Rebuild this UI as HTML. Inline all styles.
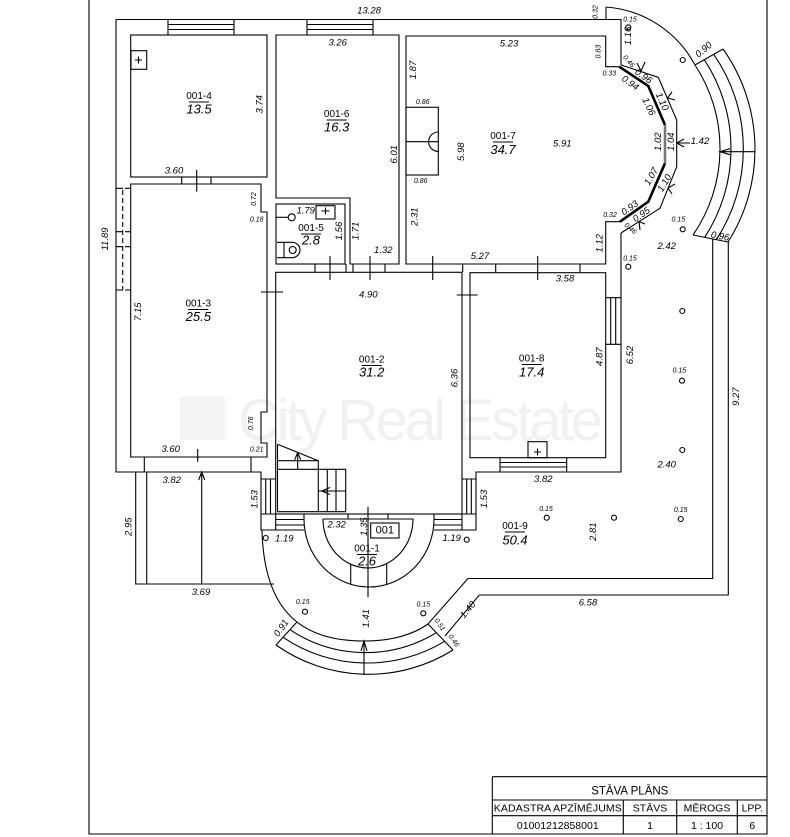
<!DOCTYPE html>
<html><head><meta charset="utf-8">
<style>
html,body{margin:0;padding:0;background:#fff;}
svg{display:block;}
text{font-family:"Liberation Sans",Arial,sans-serif;fill:#000;}
.d{font-size:9.5px;font-style:italic;}
.s{font-size:7px;font-style:italic;}
.r{font-size:10px;}
.a{font-size:13px;font-style:italic;}
.t{font-size:10.5px;}
</style></head><body>
<svg width="790" height="837" viewBox="0 0 790 837" xmlns="http://www.w3.org/2000/svg">
<rect width="790" height="837" fill="#fff"/>
<!-- watermark -->
<rect x="180" y="397" width="45" height="43" fill="#f4f4f4"/>
<text x="238" y="440" font-size="58" textLength="365" style="fill:#f1f1f1">City Real Estate</text>

<g fill="none" stroke="#000" stroke-width="1.1">
<!-- page border -->
<path d="M89,0 V834 H767 V0"/>
<!-- outer walls -->
<path d="M116,19.5 H621 V65"/>
<path d="M116,19.5 V472 H261 V530 H304"/>
<path d="M606,7 V19.5"/>
<path d="M606,7 A110,110 0 0 1 695,65"/>
<!-- rooms -->
<rect x="130.7" y="35" width="136.3" height="142"/>
<path d="M276,35 H399 V264 H350 V198 H276 Z"/>
<rect x="276" y="204" width="69" height="60"/>
<path d="M130.7,184 H261 V212 H267 V412 H261 V443 H267 V457 H130.7 Z"/>
<path d="M619.3,66.7 H605.7 V36 H406 V264 H605.7 V221.7 H620"/>
<rect x="275.7" y="272.3" width="186.3" height="241.7"/>
<rect x="470" y="272.7" width="135.7" height="185"/>
<path d="M621,233 V472 H476 V530 H434"/>
<path d="M275.7,514 V530 M462,514 V530 M261,514 H304 M434,514 H476"/>
<!-- octagon -->
<path d="M621,65 L658.3,77.3 L676.7,120 V166.7 L660,208.3 L621,233"/>
<path d="M619.3,66.7 L648.3,86 L665,125 M665,163.3 L648.3,201.7 L620,221.7" stroke-width="2.6"/>
<path d="M665,125 V163.3" stroke="#777" stroke-width="2.6"/>
<!-- octagon dim arrows -->
<path d="M637,63 L641,71 L645,62 M672,92 L667.5,98 L675,100 M684,139 L676.7,143 L684,147 M676.7,143 H690 M675,184 L668,188 L672,194 M645,224 L639,221.6 L640,230"/>
<!-- right curved steps -->
<path d="M695,65 A152,152 0 0 1 693,235"/>
<path d="M704.3,59.7 A162,162 0 0 1 704.7,237.3"/>
<path d="M713.7,54.3 A166,166 0 0 1 716.3,239.7"/>
<path d="M723,49 A173,173 0 0 1 728,242"/>
<path d="M695,65 L723,49 M693,235 L728,242"/>
<path d="M720,151.7 H755 M730,148.7 L720,151.7 L730,154.7"/>
<!-- left wall dashed window -->
<path d="M122.7,190 V290" stroke-dasharray="5,3"/>
<path d="M116,188.3 H123 M125,188.3 H130.7 M116,231.7 H123 M125,231.7 H130.7 M116,246.7 H123 M125,246.7 H130.7 M116,290 H123 M125,290 H130.7"/>
<!-- windows -->
<path d="M168,19.5 V35 M234,19.5 V35 M168,24.5 H234 M168,29.5 H234"/>
<path d="M307,19.5 V35 M373,19.5 V35 M307,24.5 H373 M307,29.5 H373"/>
<path d="M605.7,297.7 H621 M605.7,344.3 H621 M610.7,297.7 V344.3 M615.7,297.7 V344.3"/>
<path d="M500,457.7 V472 M566.7,457.7 V472 M500,462.5 H566.7 M500,467 H566.7"/>
<path d="M261,479 H275.7 M265.7,479 V514 M270.5,479 V514"/>
<path d="M462,479 H476 M466.7,479 V514 M471.3,479 V514"/>
<path d="M275.7,519.5 H304 M275.7,525 H304 M434,519.5 H462 M434,525 H462"/>
<!-- door ticks & jambs -->
<path d="M196.7,170 V191.7 M181.7,177 V184 M211,177 V184"/>
<path d="M261,292 H283 M456.7,295 H477.7"/>
<path d="M330,256 V280 M370,256 V280 M432.7,256 V280 M537.7,256 V280"/>
<path d="M315,264 V272 M346,264 V272 M353,264 V272 M385,264 V272 M462.7,264 V272 M495.7,264 V272 M580,264 V272"/>
<path d="M197.7,449 V461.7 M144.3,457 V472 M251,457 V472"/>
<path d="M201.7,584 V472 M198.7,480 L201.7,472 L204.7,480"/>
<!-- left terrace box -->
<path d="M135.7,472 V584 H274 M146.7,472 V584"/>
<!-- fixtures -->
<rect x="131" y="50.7" width="15.7" height="18.6"/>
<path d="M135,60 H142 M138.5,56.5 V63.5"/>
<rect x="528" y="441.7" width="19" height="16"/>
<path d="M534,452 H541 M537.5,448.5 V455.5"/>
<rect x="316" y="205.7" width="19" height="13.3"/>
<path d="M321.5,211 H329.5 M325.5,207.5 V214.5"/>
<path d="M276,217.3 H288"/>
<circle cx="291.7" cy="217.3" r="3.5"/>
<path d="M277,242.3 H292 A8,7.7 0 0 1 292,257.7 H277 M284,242.3 V257.7"/>
<circle cx="292.7" cy="250" r="3.5"/>
<!-- fireplace -->
<rect x="406" y="107.3" width="32.3" height="67.7"/>
<path d="M406,141.7 H438.3 M438.3,132 A9.7,9.7 0 0 0 438.3,151.4"/>
<!-- stairs -->
<path d="M277.5,444.3 V511.7 H345.7 V469.3 H277.5 M277.5,444.3 L318.3,460.7 V511.7 M277.5,460.7 H318.3"/>
<path d="M327.3,469.3 V511.7 M336,469.3 V511.7 M318.3,491 H345.7 M330,487.5 L321.7,491 L330,494.5"/>
<path d="M297.7,469.3 V452.7 M294.7,459.7 L297.7,452.7 L300.7,459.7"/>
<!-- entrance -->
<path d="M304,514 V519 A65,68 0 0 0 434,519 V514"/>
<path d="M323,519 H413 A45,49 0 0 1 323,519"/>
<path d="M350.7,564 V584.5 M386.7,564 V584.5 M348,514 V519 M388,514 V519"/>
<path d="M368,507 V597"/>
<rect x="370.7" y="523" width="28.3" height="15"/>
<!-- portico / terrace -->
<path d="M262,530 C264,615 305,641 364,641 C388.8,641 410.4,636.4 428,624 L468,578.5 H712.7 V239"/>
<path d="M445,636 L479.3,595 H728.3 V242"/>
<path d="M297,622 L276,645 M428,624 L453,650"/>
<path d="M290,629.7 A136,136 0 0 0 436.3,632.7"/>
<path d="M283,637.3 A150,150 0 0 0 444.7,641.3"/>
<path d="M276,645 A160,160 0 0 0 453,650"/>
<path d="M364,675 V641 M361,651 L364,641 L367,651"/>
<!-- columns -->
<circle cx="628.3" cy="27.3" r="2.5"/><circle cx="682.7" cy="60" r="2.5"/>
<circle cx="682.7" cy="229.3" r="2.5"/><circle cx="628.3" cy="266.7" r="2.5"/>
<circle cx="682.3" cy="311" r="2.5"/><circle cx="682" cy="380.7" r="2.5"/>
<circle cx="682.3" cy="450" r="2.5"/><circle cx="546.7" cy="517.7" r="2.5"/>
<circle cx="614" cy="517.7" r="2.5"/><circle cx="680.7" cy="519" r="2.5"/>
<circle cx="466.7" cy="539.7" r="2.5"/><circle cx="265.7" cy="538" r="2.5"/>
<circle cx="305" cy="611.7" r="2.5"/><circle cx="423.3" cy="613.3" r="2.5"/>
<!-- room label underlines -->
<path d="M189,102 H209 M326.7,120 H346.7 M301,234 H321 M493,142 H513 M188.3,309.5 H208.3 M361.7,365.5 H381.7 M521.7,364.5 H541.7 M505,532 H525 M357,554.5 H377"/>
<!-- title block -->
<path d="M492.3,776.7 H767 M492.3,776.7 V834 M492.3,800 H767 M492.3,815.7 H767 M623.3,800 V834 M676.7,800 V834 M737.3,800 V834"/>
</g>

<g dominant-baseline="central" text-anchor="middle">
<!-- room labels -->
<text class="r" x="199" y="96.5">001-4</text><text class="a" x="199" y="109">13.5</text>
<text class="r" x="336.7" y="114.5">001-6</text><text class="a" x="336.7" y="127">16.3</text>
<text class="r" x="311" y="228.5">001-5</text><text class="a" x="311" y="240">2.8</text>
<text class="r" x="503" y="136.5">001-7</text><text class="a" x="503" y="149.5">34.7</text>
<text class="r" x="198.3" y="304">001-3</text><text class="a" x="198.3" y="316.7">25.5</text>
<text class="r" x="371.7" y="360">001-2</text><text class="a" x="371.7" y="372">31.2</text>
<text class="r" x="531.7" y="359">001-8</text><text class="a" x="531.7" y="372">17.4</text>
<text class="r" x="515" y="526.5">001-9</text><text class="a" x="515" y="540">50.4</text>
<text class="r" x="367" y="549">001-1</text><text class="a" x="367" y="561">2.6</text>
<text x="384.8" y="530.5" font-size="11">001</text>

<!-- dimensions -->
<text class="d" x="369" y="11">13.28</text>
<text class="d" x="337.7" y="43">3.26</text>
<text class="d" x="509" y="44">5.23</text>
<text class="s" x="596" y="12" transform="rotate(-90 596 12)">0.32</text>
<text class="s" x="630" y="20">0.15</text>
<text class="d" x="628.3" y="36" transform="rotate(-90 628.3 36)">1.16</text>
<text class="s" x="599" y="51.7" transform="rotate(-90 599 51.7)">0.83</text>
<text class="s" x="609.3" y="74">0.33</text>
<text class="d" x="413.3" y="70" transform="rotate(-90 413.3 70)">1.87</text>
<text class="s" x="422.7" y="102.3">0.86</text>
<text class="s" x="420.7" y="181.7">0.86</text>
<text class="d" x="461.7" y="151.7" transform="rotate(-90 461.7 151.7)">5.98</text>
<text class="d" x="562.3" y="144">5.91</text>
<text class="d" x="415" y="216.7" transform="rotate(-90 415 216.7)">2.31</text>
<text class="d" x="600" y="243.3" transform="rotate(-90 600 243.3)">1.12</text>
<text class="s" x="610" y="215.7">0.32</text>
<text class="d" x="480" y="256.7">5.27</text>
<text class="d" x="666.7" y="246.7">2.42</text>
<text class="s" x="678.3" y="220">0.15</text>
<text class="s" x="630" y="259">0.15</text>
<text class="d" x="704" y="50" transform="rotate(-40 704 50)">0.90</text>
<text class="d" x="720" y="236.7" transform="rotate(10 720 236.7)">0.96</text>
<text class="d" x="700" y="141.7">1.42</text>
<text class="s" x="628.3" y="61.7" transform="rotate(50 628.3 61.7)">0.46</text>
<text class="d" x="643.3" y="76.7" transform="rotate(35 643.3 76.7)">0.96</text>
<text class="d" x="630" y="83.3" transform="rotate(35 630 83.3)">0.94</text>
<text class="d" x="661.7" y="101.7" transform="rotate(65 661.7 101.7)">1.10</text>
<text class="d" x="648.3" y="106.7" transform="rotate(65 648.3 106.7)">1.06</text>
<text class="d" x="658.3" y="141.7" transform="rotate(-90 658.3 141.7)">1.02</text>
<text class="d" x="671.7" y="141.7" transform="rotate(-90 671.7 141.7)">1.04</text>
<text class="d" x="651.7" y="176.7" transform="rotate(-60 651.7 176.7)">1.07</text>
<text class="d" x="665" y="183.3" transform="rotate(-60 665 183.3)">1.10</text>
<text class="d" x="630" y="208.3" transform="rotate(-35 630 208.3)">0.93</text>
<text class="d" x="641.7" y="215" transform="rotate(-35 641.7 215)">0.95</text>
<text class="s" x="630" y="229" transform="rotate(40 630 229)">0.46</text>
<text class="d" x="105.7" y="239" transform="rotate(-90 105.7 239)">11.89</text>
<text class="d" x="260" y="104.3" transform="rotate(-90 260 104.3)">3.74</text>
<text class="d" x="174" y="171">3.60</text>
<text class="d" x="394.3" y="154.3" transform="rotate(-90 394.3 154.3)">6.01</text>
<text class="s" x="254.3" y="199" transform="rotate(-90 254.3 199)">0.72</text>
<text class="s" x="256.7" y="220">0.18</text>
<text class="d" x="305.7" y="211">1.79</text>
<text class="d" x="339.3" y="231" transform="rotate(-90 339.3 231)">1.56</text>
<text class="d" x="356" y="231" transform="rotate(-90 356 231)">1.71</text>
<text class="d" x="383.3" y="250.7">1.32</text>
<text class="d" x="138.3" y="311.7" transform="rotate(-90 138.3 311.7)">7.15</text>
<text class="d" x="368.3" y="295">4.90</text>
<text class="d" x="455" y="378" transform="rotate(-90 455 378)">6.36</text>
<text class="s" x="251.7" y="423.3" transform="rotate(-90 251.7 423.3)">0.76</text>
<text class="d" x="170.7" y="449.3">3.60</text>
<text class="s" x="256.7" y="450">0.21</text>
<text class="d" x="171.7" y="480.7">3.82</text>
<text class="d" x="201" y="592.3">3.69</text>
<text class="d" x="129" y="526.7" transform="rotate(-90 129 526.7)">2.95</text>
<text class="d" x="255" y="499.3" transform="rotate(-90 255 499.3)">1.53</text>
<text class="d" x="484.3" y="499" transform="rotate(-90 484.3 499)">1.53</text>
<text class="d" x="284.3" y="539">1.19</text>
<text class="d" x="451.7" y="538.7">1.19</text>
<text class="d" x="336.7" y="525">2.32</text>
<text class="d" x="364.3" y="526.7" transform="rotate(-90 364.3 526.7)">1.35</text>
<text class="s" x="302.7" y="602.7">0.15</text>
<text class="s" x="423.3" y="605">0.15</text>
<text class="d" x="366.7" y="618.3" transform="rotate(-90 366.7 618.3)">1.41</text>
<text class="d" x="281.7" y="628.3" transform="rotate(-55 281.7 628.3)">0.91</text>
<text class="s" x="439.3" y="625" transform="rotate(55 439.3 625)">0.51</text>
<text class="s" x="453.3" y="641" transform="rotate(55 453.3 641)">0.46</text>
<text class="d" x="468.3" y="610" transform="rotate(-50 468.3 610)">1.40</text>
<text class="d" x="565" y="279">3.58</text>
<text class="d" x="600" y="356.7" transform="rotate(-90 600 356.7)">4.87</text>
<text class="d" x="630.7" y="355" transform="rotate(-90 630.7 355)">6.52</text>
<text class="s" x="679.3" y="371">0.15</text>
<text class="d" x="736.7" y="396.7" transform="rotate(-90 736.7 396.7)">9.27</text>
<text class="d" x="543.3" y="479.3">3.82</text>
<text class="d" x="666.7" y="465">2.40</text>
<text class="d" x="593.3" y="531.7" transform="rotate(-90 593.3 531.7)">2.81</text>
<text class="s" x="546" y="509.3">0.15</text>
<text class="s" x="680.7" y="510.7">0.15</text>
<text class="d" x="588" y="603">6.58</text>

<!-- title block -->
<text x="629.8" y="791.5" font-size="11.5">STĀVA PLĀNS</text>
<text class="t" x="557.8" y="808.5" textLength="128">KADASTRA APZĪMĒJUMS</text>
<text class="t" x="650" y="808.5">STĀVS</text>
<text class="t" x="707" y="808.5">MĒROGS</text>
<text class="t" x="752.3" y="808.5">LPP.</text>
<text class="t" x="557.8" y="826">01001212858001</text>
<text class="t" x="650" y="826">1</text>
<text class="t" x="707" y="826">1 : 100</text>
<text class="t" x="752.3" y="826">6</text>
</g>
</svg>
</body></html>
